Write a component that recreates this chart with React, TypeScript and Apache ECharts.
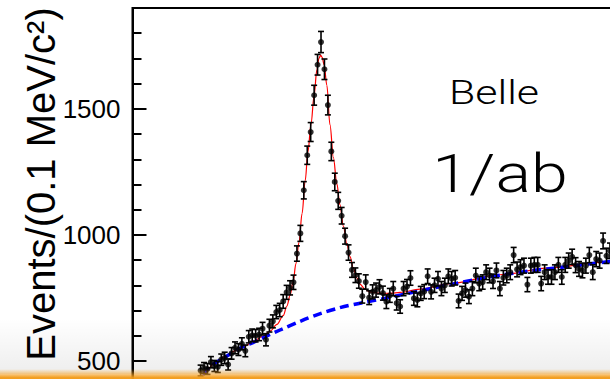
import React, { useEffect, useRef } from 'react';
import * as echarts from 'echarts';

// Mass-difference spectrum, 0.1 MeV/c² bins
const binStart = 141.55; // centre of the first bin (MeV/c²)
const binWidth = 0.1;
const xRange = [139.57, 154.0];
const yRange = [0, 1900];
const yMajorStep = 500;
const yMinorStep = 100;

// Events per bin
const counts = [
  462, 472, 468, 495, 480, 476, 505, 512, 486, 530,
  552, 545, 568, 540, 596, 602, 600, 605, 628, 584,
  640, 657, 694, 702, 736, 772, 790, 812, 926, 1006,
  1177, 1316, 1408, 1554, 1675, 1765, 1657, 1515, 1331, 1210,
  1135, 1076, 995, 930, 861, 840, 817, 757, 813, 751,
  774, 781, 794, 769, 735, 760, 787, 729, 716, 787,
  795, 829, 748, 742, 768, 775, 836, 774, 800, 826,
  787, 800, 836, 826, 830, 738, 768, 781, 755, 787,
  839, 807, 813, 852, 839, 816, 859, 787, 830, 839,
  852, 920, 863, 872, 878, 803, 878, 881, 881, 807,
  852, 833, 833, 852, 881, 833, 881, 898, 913, 880,
  865, 859, 878, 920, 852, 904, 898, 976, 917, 937,
  900,
];

// Total fit (signal + background): [mass, events]
const totalFit: [number, number][] = [
  [141.62, 447], [141.68, 457], [141.97, 492], [142.26, 517], [142.55, 540],
  [142.84, 560], [143.13, 582], [143.36, 598], [143.57, 618], [143.77, 645],
  [143.95, 680], [144.06, 718], [144.15, 760], [144.24, 815], [144.32, 885],
  [144.41, 970], [144.50, 1085], [144.59, 1215], [144.67, 1330], [144.76, 1440],
  [144.85, 1555], [144.93, 1655], [144.99, 1700], [145.04, 1713], [145.08, 1705],
  [145.14, 1675], [145.22, 1593], [145.31, 1437], [145.41, 1307], [145.51, 1203],
  [145.60, 1120], [145.70, 1035], [145.80, 965], [145.89, 915], [145.99, 868],
  [146.09, 830], [146.18, 805], [146.33, 785], [146.47, 774], [146.71, 769],
  [147.06, 768], [147.35, 772], [147.93, 785], [148.80, 807], [150.25, 842],
  [151.71, 869], [153.16, 891], [154.0, 904],
];

// Background component: [mass, events]
const backgroundFit: [number, number][] = [
  [141.62, 445], [141.68, 455], [141.82, 478], [142.11, 503], [142.40, 527],
  [142.69, 550], [143.07, 573], [143.57, 605], [144.15, 640], [144.73, 673],
  [145.31, 700], [145.89, 721], [146.68, 742], [147.72, 772], [148.51, 795],
  [149.29, 816], [150.05, 835], [150.83, 852], [151.62, 865], [152.37, 877],
  [153.16, 890], [154.0, 903],
];

const yTitle = 'Events/(0.1 MeV/c²)';
const experiment = 'Belle';
const luminosity = '1/ab';

export default function App() {
  const ref = useRef<HTMLDivElement>(null);

  useEffect(() => {
    if (!ref.current) return;
    const chart = echarts.init(ref.current, null, { renderer: 'svg' });

    const points = counts.map((c, k) => [binStart + k * binWidth, c]);
    const bars = counts.map((c, k) => {
      const e = Math.sqrt(c);
      return [binStart + k * binWidth, c - e, c + e];
    });

    const pxPerUnit = 0.2562;
    const pxPerMeV = 34.4;
    const gridLeft = 132.5;
    const gridTop = 8;
    const thinFont = 'Roboto, "Open Sans", sans-serif';

    chart.setOption({
      animation: false,
      backgroundColor: '#fff',
      grid: {
        left: gridLeft,
        top: gridTop,
        width: (xRange[1] - xRange[0]) * pxPerMeV,
        height: (yRange[1] - yRange[0]) * pxPerUnit,
        show: true,
        borderColor: '#000',
        borderWidth: 2,
        backgroundColor: 'transparent',
      },
      xAxis: {
        type: 'value',
        min: xRange[0],
        max: xRange[1],
        axisLine: { show: false },
        axisTick: { show: false },
        axisLabel: { show: false },
        splitLine: { show: false },
      },
      yAxis: [
        {
          type: 'value',
          min: yRange[0],
          max: yRange[1],
          interval: yMajorStep,
          axisLine: { show: true, lineStyle: { color: '#000', width: 2 } },
          axisTick: { show: true, inside: true, length: 14, lineStyle: { color: '#000', width: 2 } },
          axisLabel: {
            show: true,
            showMaxLabel: false,
            margin: 12,
            color: '#000',
            fontSize: 26,
            fontFamily: 'Liberation Sans, Arial, sans-serif',
            formatter: (v: number) => String(v),
          },
          splitLine: { show: false },
        },
        {
          type: 'value',
          min: yRange[0],
          max: yRange[1],
          interval: yMinorStep,
          position: 'left',
          axisLine: { show: false },
          axisTick: { show: true, inside: true, length: 9, lineStyle: { color: '#000', width: 2 } },
          axisLabel: { show: false },
          splitLine: { show: false },
        },
      ],
      series: [
        {
          type: 'line',
          data: totalFit,
          yAxisIndex: 0,
          smooth: 0.35,
          smoothMonotone: 'x',
          showSymbol: false,
          lineStyle: { color: '#ff0000', width: 1.2 },
          z: 2,
        },
        {
          type: 'line',
          data: backgroundFit,
          yAxisIndex: 0,
          smooth: 0.35,
          showSymbol: false,
          lineStyle: { color: '#0000ff', width: 3.5, type: [9, 5] },
          z: 3,
        },
        {
          type: 'custom',
          yAxisIndex: 0,
          data: bars,
          encode: { x: 0, y: [1, 2] },
          z: 4,
          renderItem: (params: any, api: any) => {
            const x = api.value(0);
            const top = api.coord([x, api.value(2)]);
            const bot = api.coord([x, api.value(1)]);
            const hw = 3;
            const st = { stroke: '#000', lineWidth: 1.6 };
            return {
              type: 'group',
              children: [
                { type: 'line', shape: { x1: top[0], y1: top[1], x2: bot[0], y2: bot[1] }, style: st },
                { type: 'line', shape: { x1: top[0] - hw, y1: top[1], x2: top[0] + hw, y2: top[1] }, style: st },
                { type: 'line', shape: { x1: bot[0] - hw, y1: bot[1], x2: bot[0] + hw, y2: bot[1] }, style: st },
              ],
            };
          },
        },
        {
          type: 'scatter',
          yAxisIndex: 0,
          data: points,
          symbol: 'circle',
          symbolSize: 6,
          itemStyle: { color: '#000' },
          z: 5,
        },
      ],
      graphic: [
        {
          type: 'text',
          x: 41,
          y: 184,
          rotation: Math.PI / 2,
          style: {
            text: yTitle,
            fontSize: 40,
            fontFamily: 'Liberation Sans, Arial, sans-serif',
            fill: '#000',
            align: 'center',
            verticalAlign: 'middle',
            textAlign: 'center',
            textVerticalAlign: 'middle',
          },
        },
        {
          type: 'text',
          x: 494,
          y: 92,
          scaleX: 1.3,
          style: {
            text: experiment,
            fontSize: 33,
            fontFamily: thinFont,
            fontWeight: 300,
            fill: '#000',
            align: 'center',
            verticalAlign: 'middle',
            textAlign: 'center',
            textVerticalAlign: 'middle',
          },
        },
        {
          type: 'text',
          x: 500,
          y: 174,
          scaleX: 1.25,
          style: {
            text: luminosity,
            fontSize: 53,
            fontFamily: thinFont,
            fontWeight: 300,
            fill: '#000',
            align: 'center',
            verticalAlign: 'middle',
            textAlign: 'center',
            textVerticalAlign: 'middle',
          },
        },
        {
          type: 'rect',
          z: 100,
          silent: true,
          shape: { x: 0, y: 318, width: 640, height: 56 },
          style: {
            fill: new echarts.graphic.LinearGradient(0, 0, 0, 1, [
              { offset: 0, color: 'rgba(0,0,0,0)' },
              { offset: 1, color: 'rgba(0,0,0,0.07)' },
            ]),
          },
        },
        {
          type: 'rect',
          z: 101,
          silent: true,
          shape: { x: 0, y: 369, width: 640, height: 14 },
          style: {
            fill: new echarts.graphic.LinearGradient(0, 0, 0, 1, [
              { offset: 0, color: 'rgba(245,165,40,0)' },
              { offset: 0.35, color: 'rgba(245,160,35,0.55)' },
              { offset: 0.6, color: 'rgba(242,155,25,0.95)' },
              { offset: 1, color: 'rgba(240,150,20,1)' },
            ]),
          },
        },
      ],
    });

    return () => chart.dispose();
  }, []);

  return (
    <div
      style={{
        position: 'fixed',
        left: 0,
        top: 0,
        width: 610,
        height: 379,
        overflow: 'hidden',
        background: '#fff',
      }}
    >
      <div ref={ref} style={{ width: 640, height: 500 }} />
    </div>
  );
}
